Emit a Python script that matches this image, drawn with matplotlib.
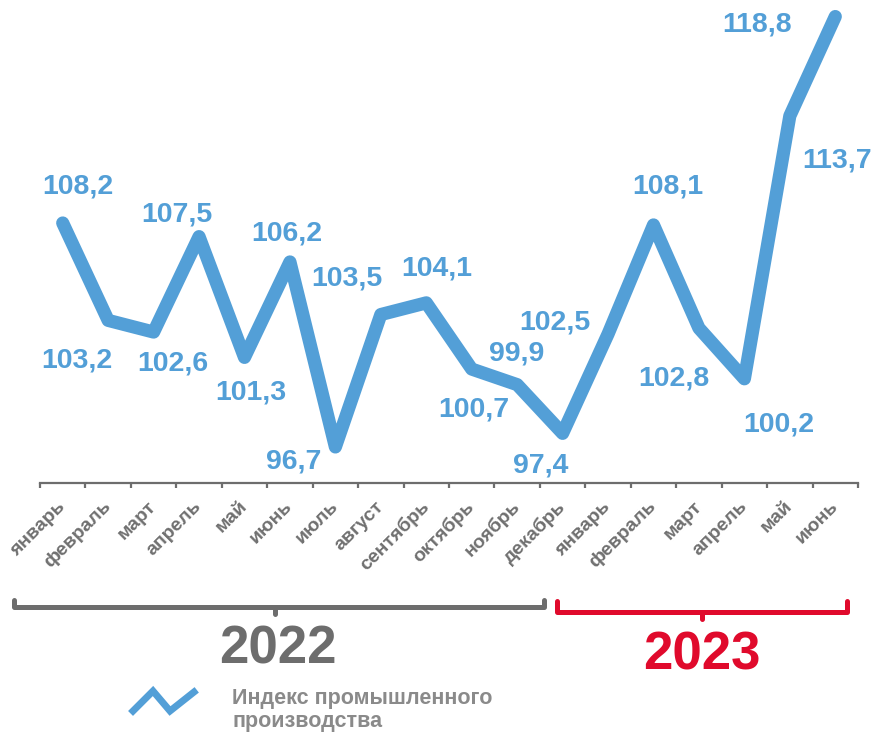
import matplotlib
matplotlib.use('Agg')
import matplotlib.pyplot as plt
from matplotlib.lines import Line2D

plt.rcParams['font.family'] = ['Liberation Sans', 'DejaVu Sans']
plt.rcParams['font.weight'] = 'bold'

# Data: industrial production index, % to the same month of the previous year
months = ['январь', 'февраль', 'март', 'апрель', 'май', 'июнь', 'июль', 'август',
          'сентябрь', 'октябрь', 'ноябрь', 'декабрь',
          'январь', 'февраль', 'март', 'апрель', 'май', 'июнь']
values = [108.2, 103.2, 102.6, 107.5, 101.3, 106.2, 96.7, 103.5, 104.1, 100.7, 99.9, 97.4,
          102.5, 108.1, 102.8, 100.2, 113.7, 118.8]
years = ['2022', '2023']
series_name = 'Индекс промышленного\nпроизводства'

# label offsets from the point, pixels (dx, dy up)
label_offsets = [(15, 36), (-31, -40), (19, -31), (-22, 22), (6, -35), (-3, 28),
                 (-42, -15), (-34, 36), (10, 34), (2, -40), (-1, 31), (-22, -32),
                 (-53, 12), (14, 38), (-25, -50), (34, -46), (47, -45), (-78, -8)]

BLUE = '#539FD7'
GRAY = '#6d6d6d'
RED = '#E00A2C'

W, H = 876, 733
fig = plt.figure(figsize=(W / 100, H / 100), dpi=100)
ax = fig.add_axes([40 / W, (H - 483) / H, 818 / W, 483 / H])

x = list(range(len(values)))
ax.plot(x, values, color=BLUE, linewidth=9.5, solid_capstyle='round',
        solid_joinstyle='round', clip_on=False, zorder=3)

for xi, v, (dx, dy) in zip(x, values, label_offsets):
    ax.annotate(f'{v:.1f}'.replace('.', ','), (xi, v), xytext=(dx, dy),
                textcoords='offset pixels', ha='center', va='center',
                fontsize=20.5, fontweight='bold', color=BLUE, zorder=4)

ax.set_xlim(-0.5, len(values) - 0.5)
ax.set_ylim(94.85, 119.65)

for s in ['top', 'right', 'left']:
    ax.spines[s].set_visible(False)
ax.spines['bottom'].set_color(GRAY)
ax.spines['bottom'].set_linewidth(1.6)
ax.set_yticks([])

ax.set_xticks(x)
ax.set_xticklabels(months)
ax.set_xticks([i - 0.5 for i in range(len(values) + 1)], minor=True)
ax.tick_params(axis='x', which='major', length=0, pad=15)
ax.tick_params(axis='x', which='minor', length=3.5, width=1.6, color=GRAY, direction='out')
plt.setp(ax.get_xticklabels(), rotation=45, ha='right', va='center',
         rotation_mode='anchor', fontsize=14, fontweight='bold', color='#707070')

# overlay in pixel coordinates for brackets, year captions and legend
ov = fig.add_axes([0, 0, 1, 1], zorder=5)
ov.set_xlim(0, W)
ov.set_ylim(H, 0)
ov.axis('off')

ov.plot([14, 14, 544, 544], [600, 607, 607, 600], color=GRAY, linewidth=3.6,
        solid_joinstyle='round', solid_capstyle='round')
ov.plot([275, 275], [607, 614], color=GRAY, linewidth=3.6, solid_capstyle='round')
ov.plot([557, 557, 847, 847], [601, 612, 612, 601], color=RED, linewidth=3.6,
        solid_joinstyle='round', solid_capstyle='round')
ov.plot([702, 702], [612, 619], color=RED, linewidth=3.6, solid_capstyle='round')

ov.text(278, 649, years[0], ha='center', va='center', fontsize=38,
        fontweight='bold', color=GRAY)
ov.text(702, 655, years[1], ha='center', va='center', fontsize=38,
        fontweight='bold', color=RED)

ov.add_line(Line2D([133, 153, 170, 194], [711, 691, 711, 692], color=BLUE,
                   linewidth=5, solid_joinstyle='miter'))
ov.text(232, 710, series_name, ha='left', va='center', fontsize=15.5,
        fontweight='bold', color='#8a8a8a', linespacing=1.15)

fig.savefig('out.png', dpi=100)
